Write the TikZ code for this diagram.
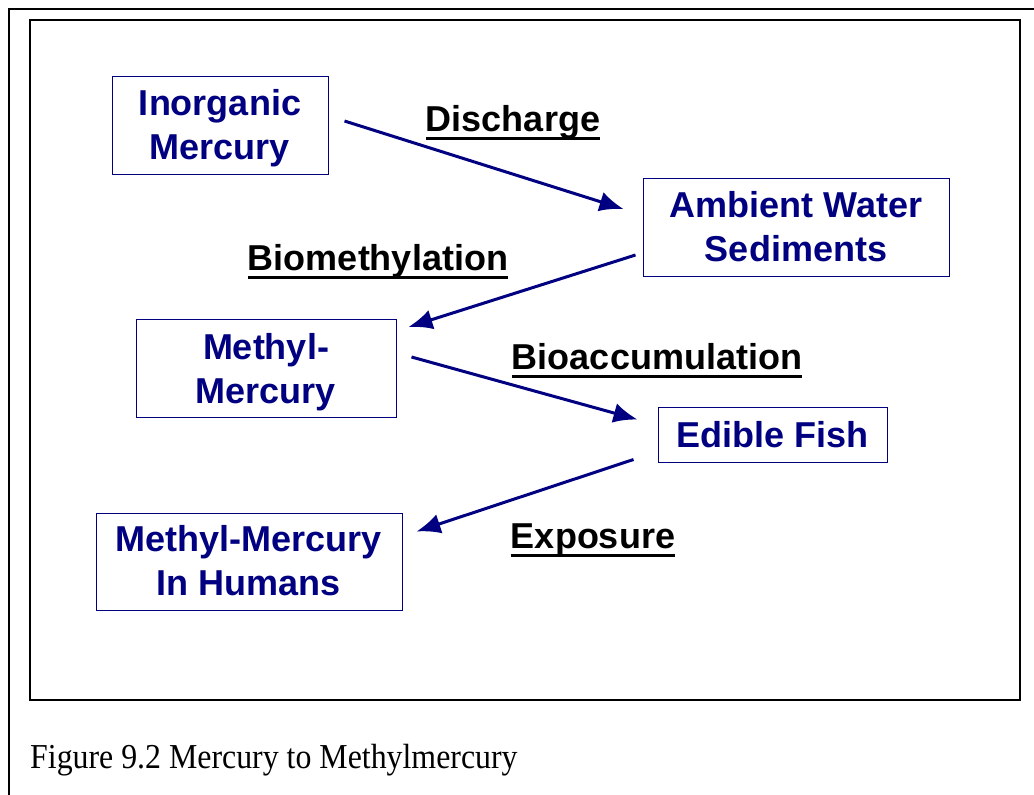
\documentclass[tikz,border=0pt]{standalone}
\usepackage{fontspec}
\usepackage{graphicx}
\setmainfont{Liberation Sans}
\newfontfamily\capfont{Liberation Serif}
\usetikzlibrary{arrows.meta,calc}
\definecolor{navy}{RGB}{0,0,128}
\newsavebox\ulbox
\newcommand\myul[1]{\sbox\ulbox{#1}\rlap{\usebox\ulbox}\rule[-9pt]{\wd\ulbox}{3.5pt}}
\newcommand\twolines[3]{\raisebox{#3}[\height][\depth]{\begin{tabular}{@{}c@{}}#1\\#2\end{tabular}}}
\tikzset{
  box/.style={draw=navy, line width=1pt, text=navy, font=\fontsize{36}{44}\selectfont\bfseries, align=center, inner sep=0pt},
  lbl/.style={font=\fontsize{36}{43}\selectfont\bfseries, text=black, anchor=base, inner sep=0pt},
  flow/.style={draw=navy, line width=3pt, -{Latex[length=24pt,width=20pt]}},
  frame/.style={draw=black, line width=2.5pt}
}
\begin{document}
\begin{tikzpicture}[x=1pt,y=-1pt]
\useasboundingbox (0,0) rectangle (1034,795);
\draw[frame] (9,9) rectangle (1045,805);
\draw[draw=black, line width=2pt] (30,20) rectangle (1020,700);

\node[box, minimum width=216pt, minimum height=98pt] (inorg) at (220,125) {\twolines{Inorganic}{Mercury}{-4pt}};
\node[box, minimum width=306pt, minimum height=98pt] (ambient) at (796,227) {\twolines{Ambient Water}{Sediments}{-4pt}};
\node[box, minimum width=260pt, minimum height=98pt] (methyl) at (266,368) {\twolines{Methyl-}{Mercury}{-4.5pt}};
\node[box, minimum width=229pt, minimum height=55pt] (fish) at (772.5,434.5) {Edible Fish};
\node[box, minimum width=306pt, minimum height=97pt] (humans) at (249,561.5) {\twolines{Methyl-Mercury}{In Humans}{-3.5pt}};

\node[lbl] (ldis) at (513,131) {\myul{Discharge}};
\node[lbl] (lbiom) at (378,270) {\myul{Biomethylation}};
\node[lbl] (lbioa) at (657,369) {\myul{Bioaccumulation}};
\node[lbl] (lexp) at (593,548) {\myul{Exposure}};

\draw[flow] ($(inorg.east)+(16,-4)$) -- ($(ambient.west)+(-19,-18)$);
\draw[flow] ($(ambient.west)+(-7,28)$) -- ($(methyl.east)+(12,-41)$);
\draw[flow] ($(methyl.east)+(15,-11)$) -- ($(fish.west)+(-20,-15)$);
\draw[flow] ($(fish.west)+(-24,25)$) -- ($(humans.east)+(14,-30)$);

\node[anchor=base west, inner sep=0pt] (cap) at (30,768) {\scalebox{0.91}[1]{\capfont\fontsize{35}{40}\selectfont Figure 9.2 Mercury to Methylmercury}};
\end{tikzpicture}
\end{document}
